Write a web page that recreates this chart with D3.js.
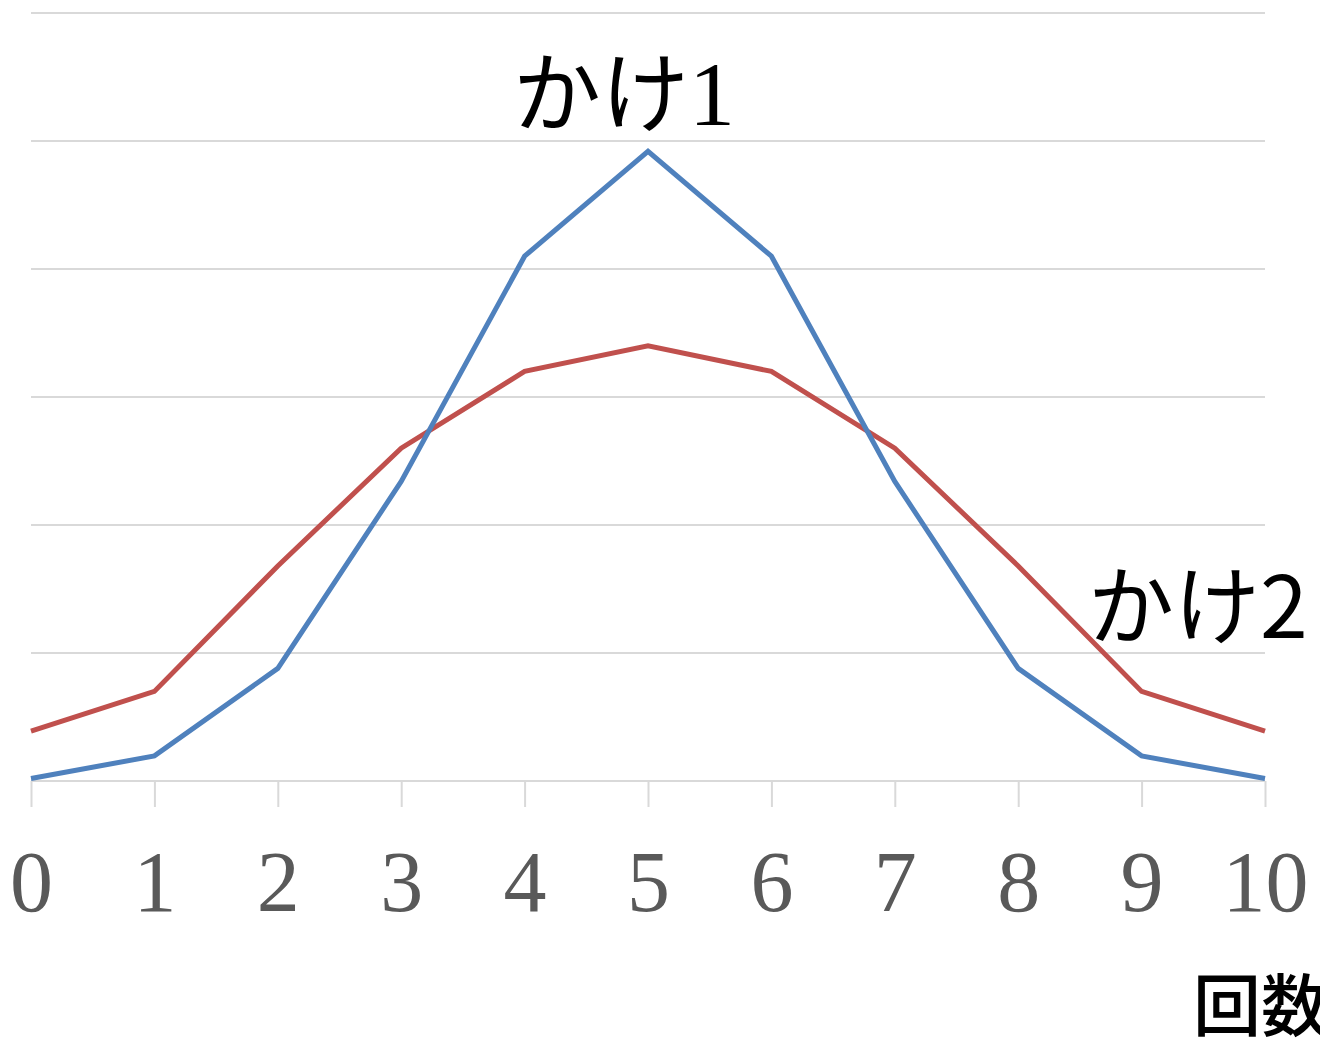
<!DOCTYPE html>
<html>
<head>
<meta charset="utf-8">
<script src="https://cdn.jsdelivr.net/npm/d3@7"></script>
<style>
    body { margin: 0; background: #fff; overflow: hidden; }
    .grid line { stroke: #d9d9d9; stroke-width: 2; }
    .tick text { fill: #595959; font-family: "Liberation Serif", "DejaVu Serif", serif; }
</style>
</head>
<body>
<script>
//x categories (number of trials) and tick labels
var counts = [0, 1, 2, 3, 4, 5, 6, 7, 8, 9, 10];
//series values
var kake1 = [0.001, 0.0098, 0.044, 0.117, 0.205, 0.246, 0.205, 0.117, 0.044, 0.0098, 0.001];
var kake2 = [0.0195, 0.035, 0.084, 0.130, 0.160, 0.170, 0.160, 0.130, 0.084, 0.035, 0.0195];
var gridValues = [0, 0.05, 0.1, 0.15, 0.2, 0.25, 0.3];

window.onload = drawChart();

function drawChart(){
    var width = 1320,
        height = 1045;

    var svg = d3.select("body")
        .append("svg")
        .attr("width", width)
        .attr("height", height);

    //scales - plot area runs from x 31 to 1265, y 13 to 781
    var x = d3.scaleLinear()
        .domain([0, 10])
        .range([31, 1265]);

    var y = d3.scaleLinear()
        .domain([0, 0.3])
        .range([781, 13]);

    //horizontal gridlines
    svg.append("g")
        .attr("class", "grid")
        .selectAll("line")
        .data(gridValues)
        .enter()
        .append("line")
        .attr("x1", x(0))
        .attr("x2", x(10))
        .attr("y1", function(d){ return y(d); })
        .attr("y2", function(d){ return y(d); });

    //x axis with tick marks below and big serif labels
    var xAxis = svg.append("g")
        .attr("transform", "translate(0," + y(0) + ")")
        .call(d3.axisBottom(x)
            .tickValues(counts)
            .tickFormat(d3.format("d"))
            .tickSize(26)
            .tickPadding(44));
    xAxis.select(".domain").remove();
    xAxis.selectAll(".tick line")
        .attr("stroke", "#d9d9d9")
        .attr("stroke-width", 2);
    xAxis.selectAll(".tick text")
        .attr("font-size", 86)
        .attr("dy", "0.7em");

    //lines
    var line = d3.line()
        .x(function(d, i){ return x(counts[i]); })
        .y(function(d){ return y(d); });

    svg.append("path")
        .datum(kake2)
        .attr("fill", "none")
        .attr("stroke", "#c0504d")
        .attr("stroke-width", 5)
        .attr("d", line);

    svg.append("path")
        .datum(kake1)
        .attr("fill", "none")
        .attr("stroke", "#4f81bd")
        .attr("stroke-width", 5)
        .attr("d", line);

    //series labels - kana in sans, digit in serif for the first one
    var label1 = svg.append("text")
        .attr("x", 513)
        .attr("y", 125)
        .attr("font-size", 88)
        .attr("fill", "#000");
    label1.append("tspan")
        .attr("font-family", "Noto Sans CJK JP")
        .text("かけ");
    label1.append("tspan")
        .attr("font-family", "Liberation Serif")
        .attr("font-size", 92)
        .text("1");

    svg.append("text")
        .attr("x", 1088)
        .attr("y", 638)
        .attr("font-family", "Noto Sans CJK JP")
        .attr("font-size", 86)
        .attr("fill", "#000")
        .text("かけ2");

    //axis title
    svg.append("text")
        .attr("x", 1193)
        .attr("y", 1031)
        .attr("font-family", "Noto Sans CJK JP")
        .attr("font-size", 68)
        .attr("font-weight", 500)
        .attr("fill", "#000")
        .text("回数");
};
</script>
</body>
</html>
